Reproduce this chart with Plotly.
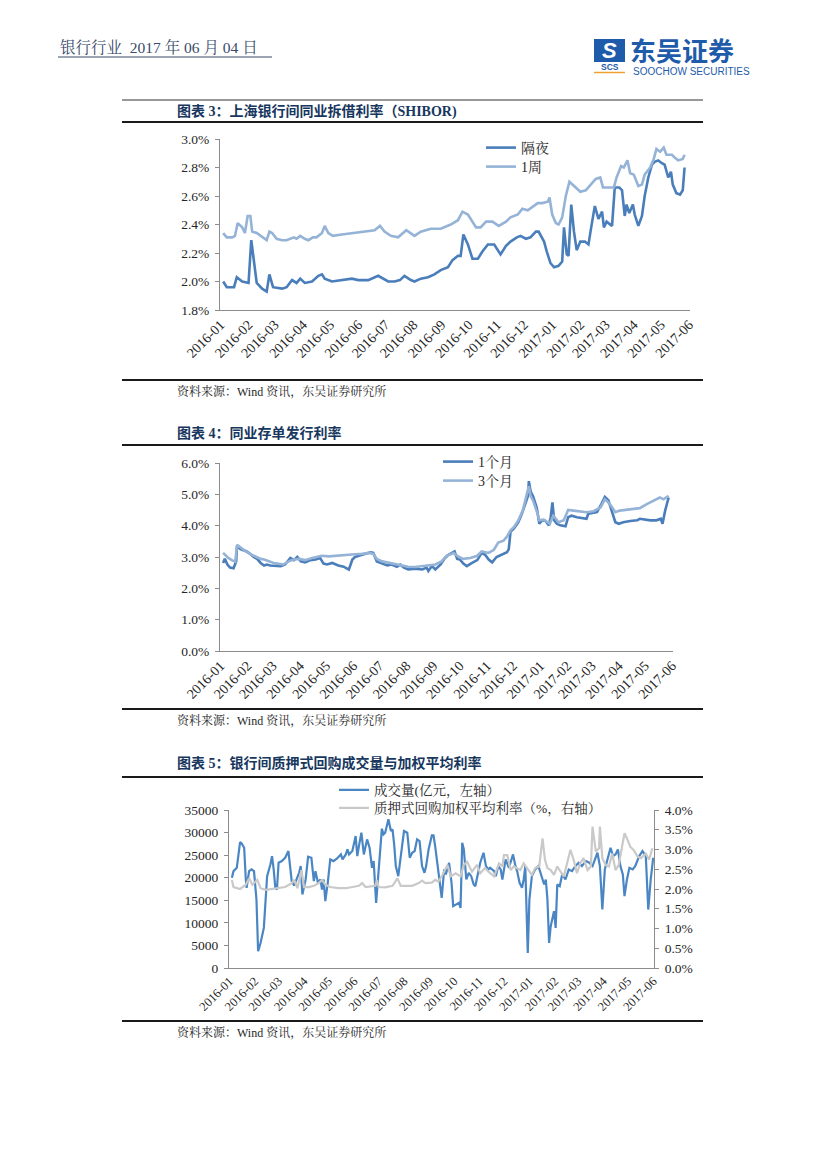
import pandas as pd
import plotly.graph_objects as go

# ---------------- data (days since 2016-01-01) ----------------
BASE_DATE = "2016-01-01"
AXIS_END_DAY = 518
month_start = "2016-01-01"

# Chart 3: SHIBOR (%)
shibor_on_days = [3, 7, 15, 18, 24, 31, 34, 40, 46, 51,
                  54, 58, 68, 73, 79, 84, 88, 93, 101, 108,
                  112, 115, 123, 134, 145, 152, 163, 174, 177, 185,
                  192, 198, 203, 210, 214, 221, 229, 236, 243, 251,
                  256, 262, 265, 268, 273, 278, 284, 289, 295, 302,
                  309, 315, 320, 327, 331, 337, 342, 348, 351, 357,
                  360, 364, 368, 373, 377, 379, 382, 384, 387, 390,
                  393, 397, 402, 406, 409, 413, 417, 421, 423, 426,
                  432, 435, 440, 443, 446, 448, 451, 455, 457, 461,
                  465, 468, 472, 476, 479, 483, 487, 490, 494, 497,
                  499, 503, 507, 510, 512]
shibor_on = [2.00, 1.96, 1.96, 2.03, 2.00, 1.99, 2.29, 1.99, 1.95, 1.93,
             2.05, 1.96, 1.95, 1.96, 2.01, 1.99, 2.02, 1.99, 2.00, 2.04,
             2.05, 2.02, 2.00, 2.01, 2.02, 2.01, 2.01, 2.04, 2.03, 2.00,
             2.00, 2.01, 2.04, 2.01, 2.00, 2.02, 2.03, 2.05, 2.08, 2.10,
             2.15, 2.18, 2.18, 2.33, 2.26, 2.16, 2.16, 2.21, 2.26, 2.26,
             2.19, 2.25, 2.28, 2.31, 2.32, 2.30, 2.31, 2.35, 2.35, 2.28,
             2.21, 2.13, 2.10, 2.11, 2.14, 2.38, 2.19, 2.18, 2.54, 2.35,
             2.22, 2.28, 2.28, 2.26, 2.38, 2.53, 2.44, 2.49, 2.38, 2.42,
             2.39, 2.66, 2.66, 2.64, 2.46, 2.54, 2.48, 2.54, 2.47, 2.39,
             2.46, 2.60, 2.73, 2.82, 2.84, 2.85, 2.83, 2.82, 2.73, 2.77,
             2.68, 2.62, 2.61, 2.64, 2.80]

shibor_1w_days = [3, 7, 13, 16, 19, 24, 27, 30, 33, 35,
                  40, 46, 51, 54, 57, 62, 68, 73, 81, 84,
                  88, 93, 97, 102, 106, 112, 115, 119, 124, 134,
                  148, 159, 170, 176, 181, 188, 196, 205, 210, 214,
                  221, 232, 243, 254, 262, 267, 273, 276, 282, 287,
                  293, 300, 307, 315, 320, 328, 333, 339, 344, 350,
                  355, 361, 363, 366, 370, 373, 377, 381, 385, 390,
                  397, 403, 408, 414, 419, 422, 426, 434, 437, 442,
                  445, 449, 452, 456, 461, 465, 468, 474, 478, 481,
                  485, 489, 492, 498, 501, 505, 510, 512]
shibor_1w = [2.34, 2.31, 2.31, 2.32, 2.41, 2.38, 2.34, 2.46, 2.46, 2.35,
             2.34, 2.31, 2.29, 2.35, 2.34, 2.30, 2.29, 2.29, 2.31, 2.30,
             2.32, 2.30, 2.29, 2.31, 2.31, 2.34, 2.39, 2.34, 2.32, 2.33,
             2.34, 2.35, 2.36, 2.39, 2.35, 2.32, 2.31, 2.36, 2.34, 2.32,
             2.35, 2.37, 2.37, 2.40, 2.43, 2.49, 2.47, 2.44, 2.38, 2.38,
             2.42, 2.42, 2.39, 2.42, 2.45, 2.47, 2.51, 2.50, 2.52, 2.55,
             2.55, 2.56, 2.59, 2.47, 2.41, 2.40, 2.45, 2.60, 2.70, 2.67,
             2.63, 2.64, 2.68, 2.72, 2.73, 2.66, 2.66, 2.66, 2.73, 2.81,
             2.80, 2.85, 2.76, 2.75, 2.67, 2.68, 2.75, 2.80, 2.86, 2.93,
             2.91, 2.94, 2.89, 2.89, 2.87, 2.85, 2.86, 2.89]

# Chart 4: NCD issuing rates (%)
ncd_1m_days = [3, 5, 8, 11, 15, 18, 19, 23, 27, 30,
               34, 38, 42, 46, 50, 53, 57, 63, 69, 74,
               80, 84, 88, 92, 97, 103, 109, 114, 118, 122,
               128, 135, 141, 147, 151, 154, 160, 166, 172, 175,
               179, 185, 191, 196, 202, 206, 210, 215, 223, 231,
               236, 238, 242, 246, 252, 257, 261,
               265, 268, 271, 274, 278, 282, 288, 294, 299, 303,
               307, 311, 316, 322, 328, 330, 332, 336, 341, 345,
               349, 352, 353, 355, 358, 362, 365, 368, 372, 376,
               378, 380, 382, 385, 389, 395, 398, 402, 408, 414,
               419, 421, 431, 436, 440, 444, 448, 452, 456, 461,
               469, 477, 480, 486, 492, 499, 504, 506, 509, 513]
ncd_1m = [2.81, 2.94, 2.76, 2.66, 2.64, 2.86, 3.35, 3.25, 3.21, 3.18,
          3.10, 3.00, 2.94, 2.81, 2.73, 2.76, 2.73, 2.71, 2.71, 2.76,
          2.97, 2.90, 3.00, 2.86, 2.83, 2.90, 2.92, 2.97, 2.79, 2.76,
          2.81, 2.73, 2.69, 2.60, 2.92, 3.00, 3.04, 3.10, 3.15, 3.13,
          2.86, 2.79, 2.73, 2.76, 2.69, 2.76, 2.66, 2.60, 2.63, 2.60,
          2.66, 2.55, 2.71, 2.60, 2.76, 2.97, 3.07,
          3.13, 3.18, 2.94, 2.92, 2.79, 2.71, 2.81, 2.90, 3.13, 3.07,
          2.92, 2.83, 3.00, 3.07, 3.15, 3.25, 3.80, 3.91, 4.11, 4.38,
          4.74, 4.95, 5.42, 5.10, 4.92, 4.58, 4.06, 4.17, 4.15, 4.01,
          4.27, 4.74, 4.17, 4.06, 4.01, 3.98, 4.27, 4.32, 4.27, 4.25,
          4.22, 4.38, 4.43, 4.69, 4.92, 4.81, 4.48, 4.11, 4.06, 4.11,
          4.15, 4.17, 4.22, 4.19, 4.17, 4.17, 4.22, 4.06, 4.48, 4.90]

ncd_3m_days = [3, 6, 9, 13, 17, 19, 23, 29, 36, 42,
               46, 50, 55, 61, 67, 72, 78, 84, 90, 97,
               105, 112, 116, 124, 131, 139, 147, 154, 162, 170,
               175, 179, 185, 193, 200, 208, 215, 223, 231, 238,
               246, 253, 259,
               267, 273, 278, 286, 294, 299, 307, 313, 318, 324,
               328, 332, 336, 341, 346, 350, 353, 355, 358, 363,
               365, 370, 374, 377, 381, 387, 393, 398, 404, 412,
               419, 427, 435, 440, 444, 448, 452, 457, 465, 473,
               480, 488, 496, 503, 507, 511, 513]
ncd_3m = [3.13, 3.04, 2.97, 2.90, 2.85, 3.39, 3.31, 3.18, 3.07, 3.00,
          2.94, 2.92, 2.86, 2.81, 2.78, 2.76, 2.86, 2.92, 2.94, 2.90,
          2.97, 3.00, 3.04, 3.02, 3.04, 3.04, 3.07, 3.09, 3.10, 3.13,
          3.10, 2.94, 2.86, 2.81, 2.76, 2.71, 2.69, 2.68, 2.71, 2.73,
          2.76, 2.86, 3.04,
          3.13, 3.00, 2.94, 2.97, 3.04, 3.18, 3.13, 3.23, 3.46, 3.52,
          3.65, 3.85, 3.96, 4.17, 4.48, 4.88, 5.26, 4.95, 4.79, 4.38,
          4.17, 4.19, 4.11, 4.06, 4.32, 4.11, 4.17, 4.50, 4.48, 4.46,
          4.43, 4.46, 4.58, 4.84, 4.74, 4.60, 4.43, 4.48, 4.50, 4.53,
          4.56, 4.69, 4.81, 4.90, 4.84, 4.92, 4.95]

# Chart 5: pledged repo volume (100m CNY) and weighted rate (%)
repo_vol_days = [3, 5, 9, 12, 13, 15, 18, 20, 21, 24,
                 27, 30, 31, 33, 35, 38, 42, 44, 46, 50,
                 52, 54, 56, 58, 60, 64, 68, 72, 74, 76,
                 79, 81, 85, 87, 89, 93, 96, 100, 103, 105,
                 108, 111, 113, 115, 117, 120, 123, 127, 131, 136,
                 138, 142, 144, 146, 150, 154, 156, 158, 161, 164,
                 168, 171, 174, 176, 179, 182, 186, 188, 190, 192,
                 194, 197, 199, 201, 203, 206, 209, 213, 217, 220,
                 223, 226, 229, 232, 235, 238, 240, 243, 247, 249,
                 251, 256, 259,
                 262, 264, 268, 271, 273, 276, 280, 282, 284, 286,
                 289, 292, 295, 298, 300, 303, 306, 310, 313, 316,
                 318, 323, 325, 328, 331, 333, 337, 341, 346, 349,
                 351, 354, 357, 359, 361, 364, 366, 369, 373, 377,
                 381, 384, 386, 388, 390, 392, 396, 398, 400, 403,
                 406, 410, 414, 418, 422, 426, 430, 435, 439, 443,
                 446, 449, 452, 455, 458, 461, 465, 468, 471, 474,
                 477, 480, 482, 485, 488, 492, 495, 500, 504, 508,
                 511, 514, 517]
repo_vol = [19980, 21460, 22200, 26270, 27900, 27600, 26640, 19610, 17760, 21460,
            21830, 21460, 19610, 15170, 3700, 5550, 8880, 15170, 20350, 22940,
            24790, 21830, 17760, 17390, 23310, 23680, 24420, 25900, 22570, 19240,
            18280, 19240, 21090, 22570, 16280, 19610, 24640, 24420, 19240, 21460,
            18870, 19610, 17390, 19610, 14800, 18870, 24050, 23680, 24200, 25160,
            24050, 25160, 26270, 25160, 25900, 29230, 24790, 27010, 29970, 25160,
            28490, 26640, 22200, 23680, 14430, 21460, 30860, 29600, 29970, 31450,
            32930, 30340, 30710, 27380, 22570, 20350, 25160, 30340, 29970, 24420,
            25530, 25900, 28490, 28120, 22570, 21090, 22570, 26270, 29380, 29380,
            27010, 20350, 15540,
            21830, 20720, 23310, 18870, 13690, 14060, 14430, 13320, 27750, 26270,
            19610, 21090, 20350, 18500, 18130, 20720, 23310, 25530, 22570, 21830,
            22200, 21460, 20350, 22570, 21830, 19610, 24050, 22200, 25160, 22570,
            21460, 18870, 17760, 19610, 22570, 3330, 15170, 20350, 21830, 22570,
            20350, 18500, 19610, 15170, 5550, 9250, 12580, 8880, 18500, 18130,
            20720, 19610, 21830, 21460, 22570, 23310, 22570, 23680, 23310, 22570,
            24050, 25530, 22570, 12950, 21830, 24050, 26640, 24790, 25160, 26270,
            22570, 20720, 15910, 19610, 22200, 21830, 22570, 24790, 25900, 24790,
            12950, 19610, 24420]

repo_rate_days = [3, 5, 13, 20, 24, 28, 34, 38, 44, 52,
                  60, 68, 76, 79, 83, 88, 91, 97, 103, 109,
                  113, 117, 123, 133, 142, 150, 158, 162, 166, 178,
                  180, 182, 190, 199, 203, 205, 209, 223, 231, 235,
                  239, 247, 251, 255,
                  260, 266, 270, 276, 282, 286, 290, 296, 302, 306,
                  312, 316, 323, 329, 333, 335, 339, 343, 347, 351,
                  355, 359, 365, 369, 373, 378, 382, 385, 388, 392,
                  396, 400, 404, 408, 412, 416, 420, 424, 428, 432,
                  437, 441, 443, 447, 451, 452, 455, 459, 463, 467,
                  471, 475, 479, 482, 485, 489, 493, 498, 502, 508,
                  512, 516]
repo_rate = [2.23, 2.05, 2.00, 2.11, 2.27, 2.11, 2.23, 2.02, 1.98, 2.00,
             2.02, 2.05, 2.15, 2.23, 2.02, 2.48, 2.05, 2.05, 2.08, 2.15,
             2.23, 2.11, 2.05, 2.02, 2.02, 2.05, 2.08, 2.15, 2.05, 2.08,
             2.23, 2.05, 2.04, 2.08, 2.19, 2.27, 2.08, 2.08, 2.15, 2.21,
             2.15, 2.16, 2.23, 2.19,
             2.36, 2.61, 2.32, 2.40, 2.32, 2.61, 2.69, 2.44, 2.61, 2.40,
             2.53, 2.44, 2.32, 2.65, 2.57, 2.86, 2.86, 2.48, 2.57, 2.53,
             2.48, 2.65, 2.48, 2.36, 2.53, 2.57, 3.28, 2.74, 2.53, 2.48,
             2.36, 2.57, 2.44, 2.32, 2.65, 2.99, 2.74, 2.40, 2.65, 2.78,
             2.48, 2.57, 3.58, 2.95, 3.03, 3.58, 2.78, 2.61, 2.57, 2.90,
             2.48, 2.61, 3.07, 3.41, 3.28, 3.07, 2.99, 2.82, 2.78, 2.90,
             2.74, 3.03]

# tick values and labels
y3_ticks = [1.8, 2.0, 2.2, 2.4, 2.6, 2.8, 3.0]
y3_labels = ["1.8%", "2.0%", "2.2%", "2.4%", "2.6%", "2.8%", "3.0%"]
y4_ticks = [0, 1, 2, 3, 4, 5, 6]
y4_labels = ["0.0%", "1.0%", "2.0%", "3.0%", "4.0%", "5.0%", "6.0%"]
y5_left_ticks = [0, 5000, 10000, 15000, 20000, 25000, 30000, 35000]
y5_left_labels = ["0", "5000", "10000", "15000", "20000", "25000", "30000", "35000"]
y5_right_ticks = [0, 0.5, 1.0, 1.5, 2.0, 2.5, 3.0, 3.5, 4.0]
y5_right_labels = ["0.0%", "0.5%", "1.0%", "1.5%", "2.0%", "2.5%", "3.0%", "3.5%", "4.0%"]

# ---------------- helpers ----------------
W, H = 827, 1169
BASE = pd.Timestamp(BASE_DATE)


def to_dates(days):
    return [BASE + pd.Timedelta(days=int(d)) for d in days]


def px(x):
    return x / W


def py(y):
    return 1 - y / H


X_RANGE = [BASE - pd.Timedelta(hours=12), BASE + pd.Timedelta(days=AXIS_END_DAY)]

SERIF = "'Liberation Serif', 'Times New Roman', 'Noto Serif CJK SC', 'Noto Sans CJK SC', serif"
TXT = "#262626"
AXC = "#8c8c8c"
DARK = "#4A7EBB"
LIGHT = "#95B3D7"
BLUE5 = "#4A86C4"
GRAY5 = "#C9C9C9"
NAVY = "#17375E"

fig = go.Figure()

# Chart 3
fig.add_trace(go.Scatter(x=to_dates(shibor_on_days), y=shibor_on, name="隔夜", mode="lines", showlegend=True,
                         line=dict(color=DARK, width=2.6), xaxis="x", yaxis="y", legend="legend"))
fig.add_trace(go.Scatter(x=to_dates(shibor_1w_days), y=shibor_1w, name="1周", mode="lines", showlegend=True,
                         line=dict(color=LIGHT, width=2.6), xaxis="x", yaxis="y", legend="legend4"))
# Chart 4
fig.add_trace(go.Scatter(x=to_dates(ncd_1m_days), y=ncd_1m, name="1个月", mode="lines", showlegend=True,
                         line=dict(color=DARK, width=2.6), xaxis="x2", yaxis="y2", legend="legend2"))
fig.add_trace(go.Scatter(x=to_dates(ncd_3m_days), y=ncd_3m, name="3个月", mode="lines", showlegend=True,
                         line=dict(color=LIGHT, width=2.6), xaxis="x2", yaxis="y2", legend="legend5"))
# Chart 5
fig.add_trace(go.Scatter(x=to_dates(repo_vol_days), y=repo_vol, name="成交量(亿元，左轴）", mode="lines",
                         showlegend=True, line=dict(color=BLUE5, width=2.2), xaxis="x3", yaxis="y3",
                         legend="legend3"))
fig.add_trace(go.Scatter(x=to_dates(repo_rate_days), y=repo_rate, name="质押式回购加权平均利率（%，右轴）",
                         mode="lines", showlegend=True, line=dict(color=GRAY5, width=2.2), xaxis="x3",
                         yaxis="y4", legend="legend6"))


def xaxis_cfg(x0, x1, anchor, size):
    return dict(domain=[px(x0), px(x1)], anchor=anchor, type="date", range=X_RANGE,
                tickmode="linear", tick0=month_start, dtick="M1", tickformat="%Y-%m",
                tickangle=-45, showline=True, linecolor=AXC, linewidth=1, ticks="",
                showgrid=False, zeroline=False, automargin=False,
                tickfont=dict(family=SERIF, size=size, color=TXT))


def yaxis_cfg(y0, y1, anchor, rng, ticks, labels, side="left"):
    return dict(domain=[py(y1), py(y0)], anchor=anchor, range=rng, tickmode="array", tickvals=ticks,
                ticktext=labels, showline=True, linecolor=AXC, linewidth=1,
                ticks="outside", ticklen=4, tickcolor=AXC, showgrid=False, zeroline=False, side=side,
                ticklabelstandoff=3, automargin=False,
                tickfont=dict(family=SERIF, size=13.5, color=TXT))


def legend_cfg(x, yc, size):
    # yc: pixel centre of the entry
    return dict(x=px(x), y=py(yc), xanchor="left", yanchor="middle", bgcolor="rgba(0,0,0,0)",
                font=dict(family=SERIF, size=size, color=TXT), tracegroupgap=0, visible=True)


layout = dict(
    width=W, height=H, margin=dict(l=0, r=0, t=0, b=0, pad=0, autoexpand=False),
    paper_bgcolor="white", plot_bgcolor="rgba(0,0,0,0)",
    font=dict(family=SERIF, color=TXT), showlegend=True,
    xaxis=xaxis_cfg(220, 690, "y", 14),
    yaxis=yaxis_cfg(139, 310, "x", [1.8, 3.0], y3_ticks, y3_labels),
    xaxis2=xaxis_cfg(220, 673, "y2", 14),
    yaxis2=yaxis_cfg(463, 651, "x2", [0, 6], y4_ticks, y4_labels),
    xaxis3=xaxis_cfg(229, 654, "y3", 12.5),
    yaxis3=yaxis_cfg(810, 968, "x3", [0, 35000], y5_left_ticks, y5_left_labels),
    yaxis4=dict(yaxis_cfg(810, 968, "x3", [0, 4], y5_right_ticks, y5_right_labels, side="right"),
                overlaying="y3"),
    legend=legend_cfg(481, 148, 14),
    legend4=legend_cfg(481, 167, 14),
    legend2=legend_cfg(438, 462, 14),
    legend5=legend_cfg(438, 481, 14),
    legend3=legend_cfg(334, 790, 13.5),
    legend6=legend_cfg(334, 808, 13.5),
)
fig.update_layout(**layout)

# ---------------- page decorations ----------------
shapes = []


def hline(x0, x1, y, w, c="#1a1a1a"):
    shapes.append(dict(type="line", xref="paper", yref="paper", x0=px(x0), x1=px(x1), y0=py(y), y1=py(y),
                       line=dict(color=c, width=w)))


hline(122, 703, 100, 1.2, "#333333")
hline(122, 703, 122, 2)
hline(122, 703, 380, 2)
hline(122, 703, 445, 2)
hline(122, 703, 709, 2)
hline(122, 703, 777, 2)
hline(122, 703, 1021, 2)
hline(58, 272, 57, 1, "#3b4a6b")

LOGO = "#1E5BAA"
shapes.append(dict(type="rect", xref="paper", yref="paper", x0=px(594), x1=px(625), y0=py(62), y1=py(39),
                   fillcolor=LOGO, line=dict(width=0)))
shapes.append(dict(type="line", xref="paper", yref="paper", x0=px(594), x1=px(625), y0=py(72.5), y1=py(72.5),
                   line=dict(color="#F0A030", width=1.5)))
fig.update_layout(shapes=shapes)

annotations = []


def text(x, y, s, size, color=TXT, family=SERIF, anchor="left"):
    annotations.append(dict(x=px(x), y=py(y), xref="paper", yref="paper", text=s, showarrow=False,
                            xanchor=anchor, yanchor="middle", font=dict(family=family, size=size, color=color)))


text(58, 47, "银行行业  2017 年 06 月 04 日", 15.5, "#3b4a6b")
text(609.5, 50.5, "<b><i>S</i></b>", 22, "white", "Liberation Sans, Arial", "center")
text(609.5, 67, "<b>SCS</b>", 8.5, LOGO, "Liberation Sans, Arial", "center")
text(628, 49, "<b>东吴证券</b>", 26, LOGO, "'Noto Sans CJK SC', sans-serif")
text(631, 71, "SOOCHOW SECURITIES", 10, LOGO, "'Liberation Sans Narrow', 'Liberation Sans', Arial")

TITLE_FONT = "'Liberation Serif', 'Noto Sans CJK SC', serif"
text(175, 111, "<b>图表 3：上海银行间同业拆借利率（SHIBOR)</b>", 14, NAVY, TITLE_FONT)
text(175, 433, "<b>图表 4：同业存单发行利率</b>", 14, NAVY, TITLE_FONT)
text(175, 763, "<b>图表 5：银行间质押式回购成交量与加权平均利率</b>", 14, NAVY, TITLE_FONT)

for yy in (391, 720, 1032):
    text(175, yy, "资料来源：Wind 资讯，东吴证券研究所", 12, TXT)

fig.update_layout(annotations=annotations)

fig.write_html("out.html", config={"displayModeBar": False},
               post_script="document.body.style.margin='0px';")
